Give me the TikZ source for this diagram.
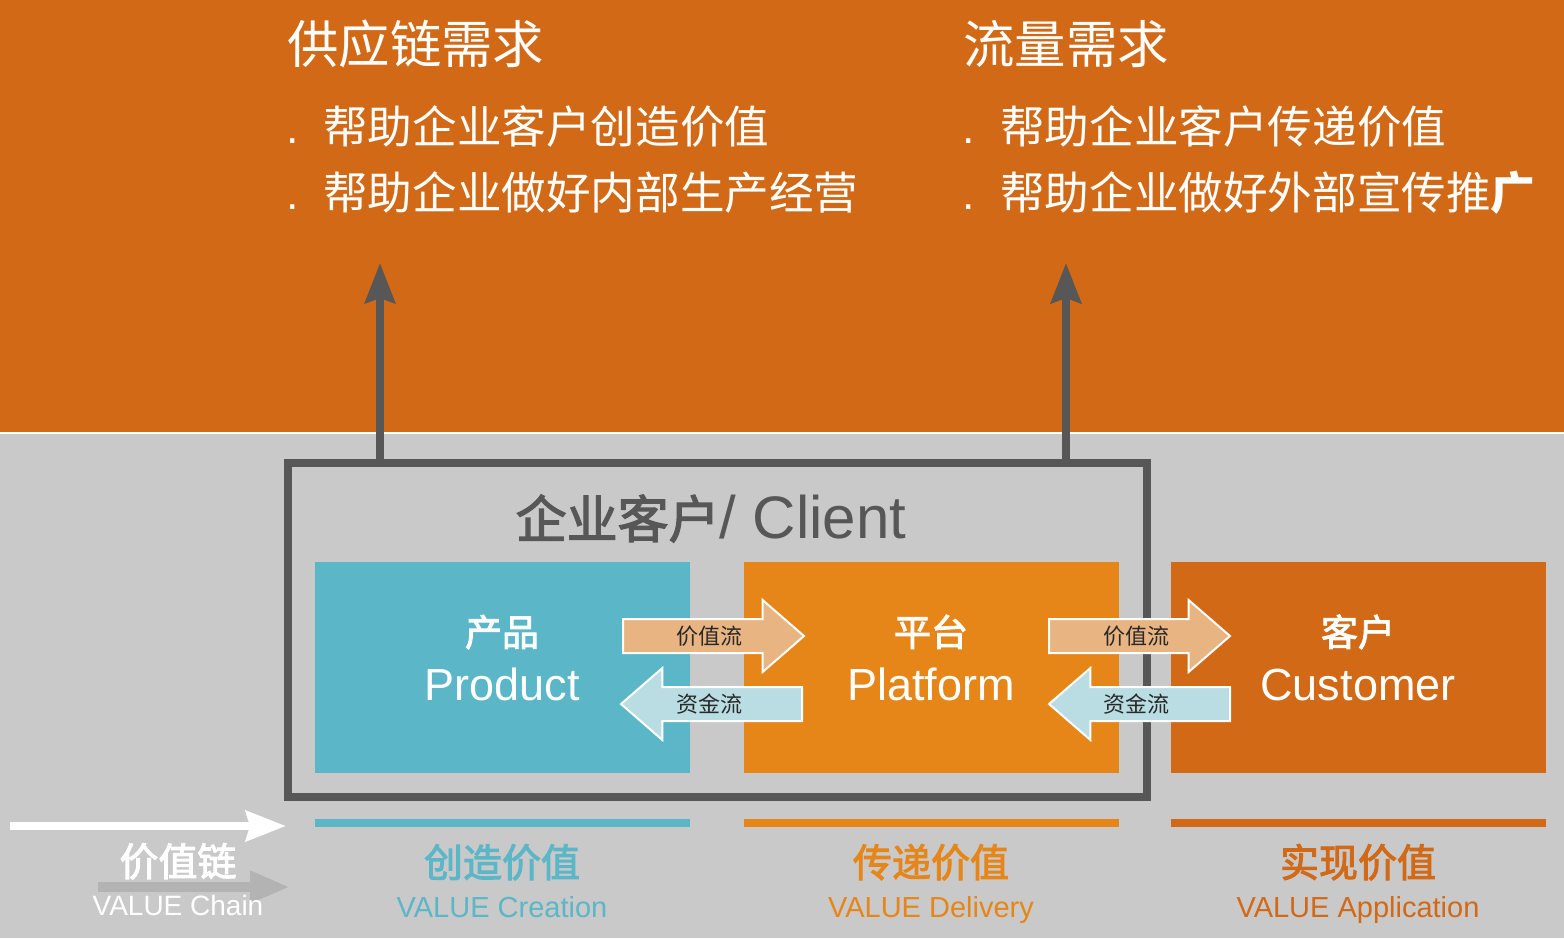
\documentclass[tikz,border=0pt]{standalone}
\usepackage{fontspec}
\setmainfont{Liberation Sans}
\newfontfamily\cjk{Noto Sans CJK SC}
\newfontfamily\cjkmid{Noto Sans CJK SC}[FakeBold=2.5]
\usetikzlibrary{positioning}
\usetikzlibrary{arrows.meta}
\usetikzlibrary{shapes.arrows}

\definecolor{rust}{RGB}{210,105,22}
\definecolor{amber}{RGB}{230,134,25}
\definecolor{tealbox}{RGB}{91,183,199}
\definecolor{paper}{RGB}{200,201,200}
\definecolor{slate}{RGB}{87,87,87}
\definecolor{peach}{RGB}{232,180,130}
\definecolor{icy}{RGB}{185,221,227}
\definecolor{fog}{RGB}{178,179,178}
\definecolor{ink}{RGB}{40,40,40}
\newcommand\fsz[1]{\fontsize{#1}{#1}\selectfont}

\begin{document}
\begin{tikzpicture}[x=1pt,y=-1pt,
  tile/.style={minimum width=375pt,minimum height=211pt,inner sep=0pt,outer sep=0pt},
  tiletext/.style={anchor=base,align=center,inner sep=0pt,text=white,font=\fontsize{45}{54}\selectfont},
  headline/.style={anchor=base west,inner sep=0pt,text=white,font=\cjk\fsz{51.4}},
  bullet/.style={anchor=base west,inner sep=0pt,text=white,font=\fsz{44.6}},
  flowbase/.style={single arrow,draw=white,line width=2pt,minimum height=181pt,minimum width=70pt,
    single arrow head extend=19pt,single arrow tip angle=82,inner xsep=0pt,inner ysep=16pt,anchor=tail},
  valueflow/.style={flowbase,fill=peach},
  cashflow/.style={flowbase,fill=icy,shape border rotate=180},
  flowtext/.style={inner sep=0pt,text=ink,font=\cjk\fsz{22}},
  upline/.style={draw=slate,line width=8pt,-{Stealth[length=40pt,width=30pt,inset=5pt]}},
  bar/.style={line width=8pt},
  stagecn/.style={anchor=base,inner sep=0pt,font=\cjkmid\fsz{39}},
  stageen/.style={anchor=base,inner sep=0pt,font=\fsz{29}}]
\useasboundingbox (0,0) rectangle (1564,938);
\fill[rust] (0,0) rectangle (1564,433);
\fill[paper] (0,433) rectangle (1564,938);
\draw[white,line width=1.5pt] (0,433) -- (1564,433);

\node[headline] (supplyHead) at (287,63) {供应链需求};
\node[bullet] (supplyA) at (286,143) {\makebox[37pt][l]{.}{\cjk 帮助企业客户创造价值}};
\node[bullet] (supplyB) at (286,209) {\makebox[37pt][l]{.}{\cjk 帮助企业做好内部生产经营}};
\node[headline] (trafficHead) at (963,63) {流量需求};
\node[bullet] (trafficA) at (962,143) {\makebox[38pt][l]{.}{\cjk 帮助企业客户传递价值}};
\node[bullet] (trafficB) at (962,209) {\makebox[38pt][l]{.}{\cjk 帮助企业做好外部宣传推{\bfseries 广}}};

\node[draw=slate,line width=8pt,minimum width=859pt,minimum height=334pt,inner sep=0pt,outer sep=0pt] (client) at (717.5,630) {};
\coordinate (supplyTip) at (380,263);
\coordinate (trafficTip) at (1066,263);
\draw[upline] (client.north -| supplyTip) -- (supplyTip);
\draw[upline] (client.north -| trafficTip) -- (trafficTip);
\node[anchor=base,inner sep=0pt,text=slate] (clientTitle) at (711,538) {{\cjkmid\fsz{51}企业客户}\fsz{60}/ Client};

\node[tile,fill=tealbox] (product) at (502,667.5) {};
\node[tile,fill=amber,right=54pt of product] (platform) {};
\node[tile,fill=rust,right=52pt of platform] (customer) {};
\node[tiletext] (productTxt) at ([yshift=-32.5pt]product.center) {{\cjkmid\fsz{37}产品}\\Product};
\node[tiletext] (platformTxt) at ([yshift=-32.5pt]platform.center) {{\cjkmid\fsz{37}平台}\\Platform};
\node[tiletext] (customerTxt) at ([yshift=-32.5pt]customer.center) {{\cjkmid\fsz{37}客户}\\Customer};

\node[valueflow] (valueA) at (622,636) {};
\node[flowtext] (valueAtxt) at (709,636) {价值流};
\node[cashflow] (cashA) at (803,704) {};
\node[flowtext] (cashAtxt) at (709,704) {资金流};
\node[valueflow] (valueB) at (1048,636) {};
\node[flowtext] (valueBtxt) at (1136,636) {价值流};
\node[cashflow] (cashB) at (1231,704) {};
\node[flowtext] (cashBtxt) at (1136,704) {资金流};

\draw[bar,tealbox] ([yshift=-50pt]product.south west) -- ([yshift=-50pt]product.south east);
\draw[bar,amber] ([yshift=-50pt]platform.south west) -- ([yshift=-50pt]platform.south east);
\draw[bar,rust] ([yshift=-50pt]customer.south west) -- ([yshift=-50pt]customer.south east);
\node[stagecn,text=tealbox] (createCn) at (502,877) {创造价值};
\node[stageen,text=tealbox] (createEn) at (502,917) {VALUE Creation};
\node[stagecn,text=amber] (deliverCn) at (931,877) {传递价值};
\node[stageen,text=amber] (deliverEn) at (931,917) {VALUE Delivery};
\node[stagecn,text=rust] (applyCn) at (1358,877) {实现价值};
\node[stageen,text=rust] (applyEn) at (1358,917) {VALUE Application};

\coordinate (chainFrom) at (10,826);
\coordinate (chainTo) at (286,826);
\coordinate (chainBackFrom) at (98,887);
\coordinate (chainBackTo) at (290,887);
\draw[white,line width=8pt,-{Stealth[length=40pt,width=30pt,inset=4pt]}] (chainFrom) -- (chainTo);
\draw[fog,line width=10pt,-{Triangle[length=40pt,width=30pt]}] (chainBackFrom) -- (chainBackTo);
\node[stagecn,text=white] (chainCn) at (178,876) {价值链};
\node[stageen,text=white,font=\fsz{28}] (chainEn) at (178,915) {VALUE Chain};
\end{tikzpicture}
\end{document}
